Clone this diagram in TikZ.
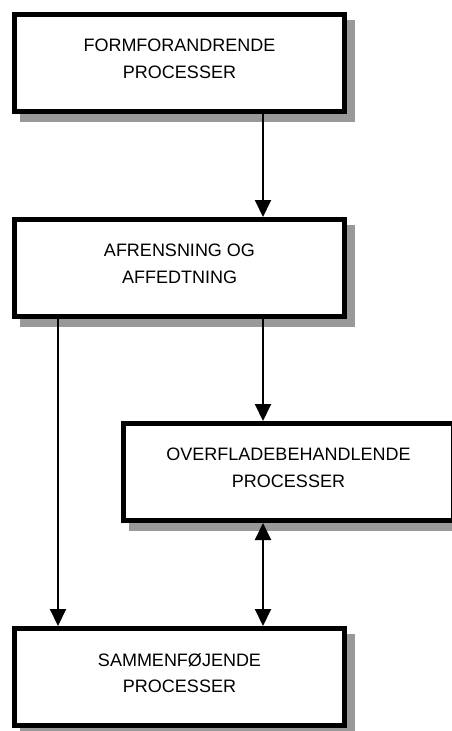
\documentclass[tikz,border=0pt]{standalone}
\usepackage{fontspec}
\setmainfont{Liberation Sans}
\usetikzlibrary{arrows.meta,shadows}
\begin{document}
\begin{tikzpicture}[x=1pt,y=-1pt,
  proc/.style={draw,line width=5pt,fill=white,minimum width=330pt,minimum height=97pt,
    align=center,text depth=8pt,font=\fontsize{18}{26.7}\selectfont,
    drop shadow={shadow xshift=8pt,shadow yshift=-8pt,fill=black!40,draw=black!40,
      line width=5pt,opacity=1}},
  arr/.style={line width=2pt,-{Triangle[length=17pt,width=16pt]}},
  darr/.style={line width=2pt,{Triangle[length=17pt,width=16pt]}-{Triangle[length=17pt,width=16pt]}}]
\useasboundingbox (0,0) rectangle (452,731);
\node[proc] (form) at (179.5,63) {FORMFORANDRENDE\\PROCESSER};
\node[proc] (afr) at (179.5,268) {AFRENSNING OG\\AFFEDTNING};
\node[proc] (overf) at (288.5,472) {OVERFLADEBEHANDLENDE\\PROCESSER};
\node[proc] (samm) at (179.5,677) {SAMMENFØJENDE\\PROCESSER};
\draw[arr] ([xshift=83.5pt]form.south) -- ([xshift=83.5pt]afr.north);
\draw[arr] ([xshift=83.5pt]afr.south) -- ([xshift=83.5pt]afr.south |- overf.north);
\draw[arr] ([xshift=-121.5pt]afr.south) -- ([xshift=-121.5pt]samm.north);
\draw[darr] ([xshift=83.5pt]samm.north |- overf.south) -- ([xshift=83.5pt]samm.north);
\end{tikzpicture}
\end{document}
